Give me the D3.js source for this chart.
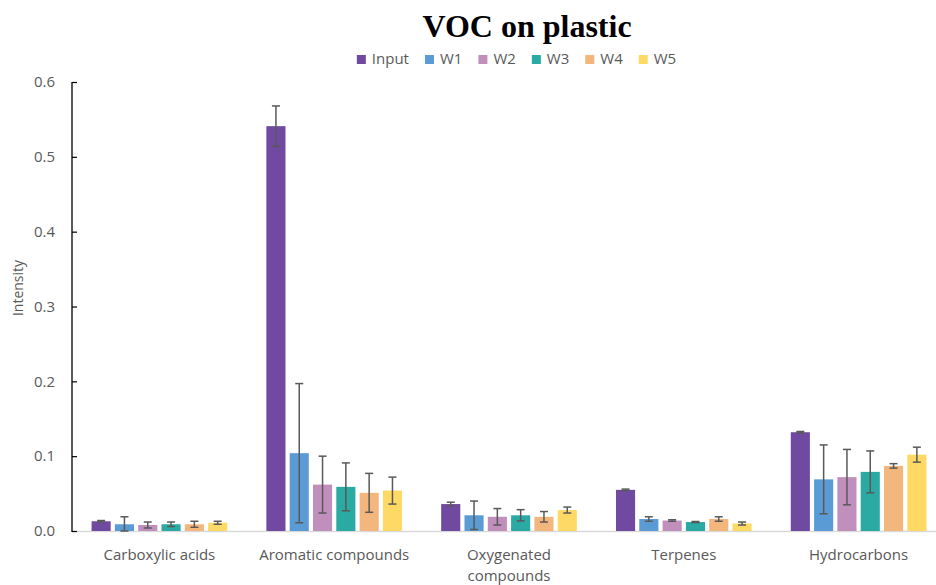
<!DOCTYPE html>
<html>
<head>
<meta charset="utf-8">
<script src="https://cdn.jsdelivr.net/npm/d3@7/dist/d3.min.js"></script>
<style>
  html, body { margin: 0; padding: 0; background: #fff; }
  svg { display: block; }
</style>
</head>
<body>
<svg id="chart" width="936" height="585"></svg>
<script>
// Mean intensity of each VOC class, per sampling point
const categories = ["Carboxylic acids", "Aromatic compounds", "Oxygenated compounds", "Terpenes", "Hydrocarbons"];
const seriesNames = ["Input", "W1", "W2", "W3", "W4", "W5"];

const inputVals = [0.013, 0.541, 0.036, 0.055, 0.132];
const w1Vals    = [0.009, 0.104, 0.021, 0.016, 0.069];
const w2Vals    = [0.008, 0.062, 0.019, 0.014, 0.072];
const w3Vals    = [0.009, 0.059, 0.021, 0.012, 0.079];
const w4Vals    = [0.009, 0.051, 0.019, 0.016, 0.087];
const w5Vals    = [0.011, 0.054, 0.028, 0.010, 0.102];

// Standard deviations (error bar half-lengths)
const inputErr = [0.001, 0.027, 0.0025, 0.001, 0.001];
const w1Err    = [0.010, 0.093, 0.019, 0.003, 0.046];
const w2Err    = [0.004, 0.038, 0.011, 0.001, 0.037];
const w3Err    = [0.003, 0.032, 0.0075, 0.0007, 0.028];
const w4Err    = [0.004, 0.026, 0.007, 0.003, 0.003];
const w5Err    = [0.002, 0.018, 0.004, 0.002, 0.010];

const yTicks = [0, 0.1, 0.2, 0.3, 0.4, 0.5, 0.6];

const seriesColors = ["#7049a0", "#5b9bd5", "#c18fbc", "#2baaa3", "#f3b67c", "#ffd966"];

const seriesValues = [inputVals, w1Vals, w2Vals, w3Vals, w4Vals, w5Vals];
const seriesErrors = [inputErr, w1Err, w2Err, w3Err, w4Err, w5Err];

const rows = [];
categories.forEach((c, ci) => {
  seriesNames.forEach((s, si) => {
    rows.push({ cat: c, series: s, value: seriesValues[si][ci], err: seriesErrors[si][ci] });
  });
});

const svg = d3.select("#chart");
const font = "'Open Sans', 'Noto Sans', sans-serif";
const textGray = "#595959";

const plotLeft = 72, plotRight = 946, plotTop = 82, plotBottom = 531;

const x0 = d3.scaleBand().domain(categories).range([plotLeft, plotRight]).paddingInner(0.2).paddingOuter(0.1);
const x1 = d3.scaleBand().domain(seriesNames).range([0, x0.bandwidth()]).paddingInner(0.18).paddingOuter(0.09);
const y = d3.scaleLinear().domain([0, 0.6]).range([plotBottom, plotTop]);
const color = d3.scaleOrdinal().domain(seriesNames).range(seriesColors);

// Title
svg.append("text")
  .attr("x", 527).attr("y", 37)
  .attr("text-anchor", "middle")
  .attr("font-family", "'Liberation Serif', 'Times New Roman', serif")
  .attr("font-weight", "bold")
  .attr("font-size", 32)
  .attr("fill", "#000")
  .text("VOC on plastic");

// Legend
const legend = svg.append("g").attr("class", "legend");
let lx = 0;
seriesNames.forEach((s) => {
  const g = legend.append("g").attr("transform", `translate(${lx},0)`);
  g.append("rect").attr("x", 0).attr("y", -9).attr("width", 9).attr("height", 9).attr("fill", color(s));
  const t = g.append("text").attr("x", 15).attr("y", 0)
    .attr("font-family", font).attr("font-size", 15).attr("fill", textGray).text(s);
  lx += 15 + t.node().getComputedTextLength() + 16;
});
const legendWidth = lx - 16;
legend.attr("transform", `translate(${516.5 - legendWidth / 2},64)`);

// X baseline
svg.append("line")
  .attr("x1", plotLeft).attr("x2", plotRight).attr("y1", plotBottom + 0.5).attr("y2", plotBottom + 0.5)
  .attr("stroke", "#d9d9d9").attr("stroke-width", 1.5);

// Y axis
const yAxis = svg.append("g")
  .attr("transform", `translate(${plotLeft},0)`)
  .call(d3.axisLeft(y).tickValues(yTicks).tickFormat(d3.format(".1f")).tickSize(-5).tickPadding(17));
yAxis.select(".domain").attr("stroke", "#000").attr("stroke-width", 1.3).attr("d", `M0,${plotTop}V${plotBottom + 1}`);
yAxis.selectAll(".tick line").attr("stroke", "#000").attr("stroke-width", 1.2);
yAxis.selectAll(".tick text").attr("font-family", font).attr("font-size", 15).attr("fill", textGray);

// Y title
svg.append("text")
  .attr("transform", "translate(23,288) rotate(-90)")
  .attr("text-anchor", "middle")
  .attr("font-family", font).attr("font-size", 14).attr("fill", textGray)
  .text("Intensity");

// Bars
const bars = svg.append("g");
bars.selectAll("rect")
  .data(rows)
  .join("rect")
  .attr("x", d => x0(d.cat) + x1(d.series))
  .attr("width", x1.bandwidth())
  .attr("y", d => y(d.value))
  .attr("height", d => y(0) - y(d.value))
  .attr("fill", d => color(d.series));

// Error bars
const eb = svg.append("g").attr("stroke", "#595959").attr("stroke-width", 1.5);
const capHalf = 4;
rows.forEach(d => {
  const cx = x0(d.cat) + x1(d.series) + x1.bandwidth() / 2;
  const y1 = y(d.value + d.err), y2 = y(Math.max(0, d.value - d.err));
  eb.append("line").attr("x1", cx).attr("x2", cx).attr("y1", y1).attr("y2", y2);
  eb.append("line").attr("x1", cx - capHalf).attr("x2", cx + capHalf).attr("y1", y1).attr("y2", y1);
  eb.append("line").attr("x1", cx - capHalf).attr("x2", cx + capHalf).attr("y1", y2).attr("y2", y2);
});

// Category labels, wrapped when wider than the band
const maxLabelWidth = 162;
categories.forEach(c => {
  const cx = x0(c) + x0.bandwidth() / 2;
  const t = svg.append("text")
    .attr("x", cx).attr("y", 560)
    .attr("text-anchor", "middle")
    .attr("font-family", font).attr("font-size", 15).attr("fill", textGray)
    .text(c);
  if (t.node().getComputedTextLength() > maxLabelWidth) {
    const words = c.split(" ");
    t.text(null);
    words.forEach((w, i) => {
      t.append("tspan").attr("x", cx).attr("dy", i === 0 ? 0 : 21).text(w);
    });
  }
});
</script>
</body>
</html>
